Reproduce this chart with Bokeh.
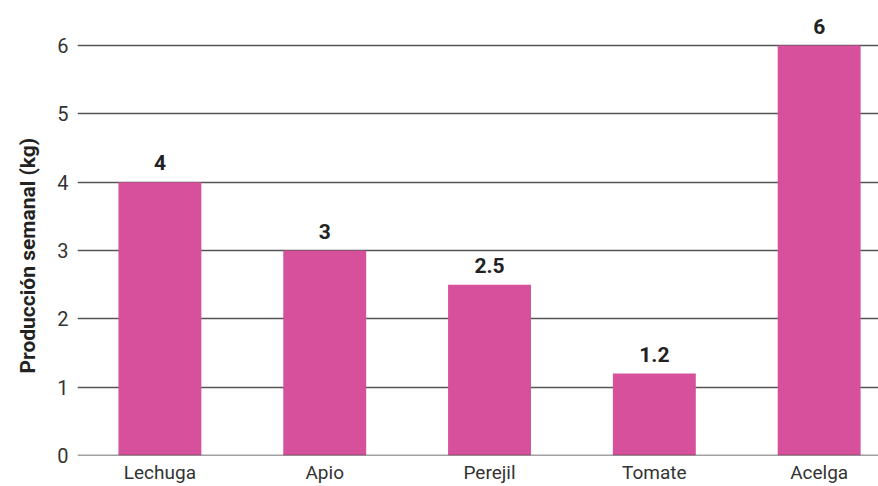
from bokeh.plotting import figure
from bokeh.models import ColumnDataSource, Range1d, FixedTicker, Span, LabelSet, Title
from bokeh.core.properties import value
from bokeh.embed import file_html
from bokeh.resources import INLINE

categories = ["Lechuga", "Apio", "Perejil", "Tomate", "Acelga"]
values = [4, 3, 2.5, 1.2, 6]
value_labels = ["4", "3", "2.5", "1.2", "6"]
y_ticks = [0, 1, 2, 3, 4, 5, 6]
y_title = "Producción semanal (kg)"

xs = list(range(len(categories)))
src = ColumnDataSource(dict(x=xs, top=values, lab=value_labels))

p = figure(width=878, height=486, output_backend="svg", toolbar_location=None,
           x_range=Range1d(-0.5, 4.36), y_range=Range1d(0, 6.66),
           min_border_left=77, min_border_right=0, min_border_top=0, min_border_bottom=31)
p.outline_line_color = None
p.background_fill_color = "white"
p.border_fill_color = "white"

p.ygrid.ticker = FixedTicker(ticks=y_ticks)
p.ygrid.grid_line_color = "#555555"
p.ygrid.grid_line_width = 1.3
p.xgrid.grid_line_color = None

p.vbar(x="x", top="top", width=0.503, source=src, color="#D6509B", line_color=None)

zero = Span(location=0, dimension="width", line_color="#444444", line_width=1.5)
p.add_layout(zero)

labels = LabelSet(x="x", y="top", text="lab", source=src, text_align="center",
                  text_baseline="bottom", y_offset=12, text_font=value("Roboto"),
                  text_font_style="bold", text_font_size="21px", text_color="#222222")
p.add_layout(labels)

p.yaxis.ticker = FixedTicker(ticks=y_ticks)
p.yaxis.axis_line_color = None
p.yaxis.major_tick_line_color = None
p.yaxis.minor_tick_line_color = None
p.yaxis.major_tick_out = 0
p.yaxis.major_tick_in = 0
p.yaxis.major_label_text_font = "Roboto"
p.yaxis.major_label_text_font_size = "20px"
p.yaxis.major_label_text_font_style = "normal"
p.yaxis.major_label_text_color = "#333333"
p.yaxis.major_label_standoff = 9

ytitle = Title(text=y_title, align="left", offset=82, text_font="Roboto",
               text_font_style="bold", text_font_size="21px", text_color="#222222",
               vertical_align="top", standoff=26)
p.add_layout(ytitle, "left")

p.xaxis.ticker = FixedTicker(ticks=xs)
p.xaxis.major_label_overrides = {i: c for i, c in enumerate(categories)}
p.xaxis.axis_line_color = None
p.xaxis.major_tick_line_color = None
p.xaxis.minor_tick_line_color = None
p.xaxis.major_tick_out = 0
p.xaxis.major_tick_in = 0
p.xaxis.major_label_text_font = "Roboto"
p.xaxis.major_label_text_font_size = "19px"
p.xaxis.major_label_text_color = "#333333"
p.xaxis.major_label_standoff = 5

open("out.html", "w").write(file_html(p, INLINE))
